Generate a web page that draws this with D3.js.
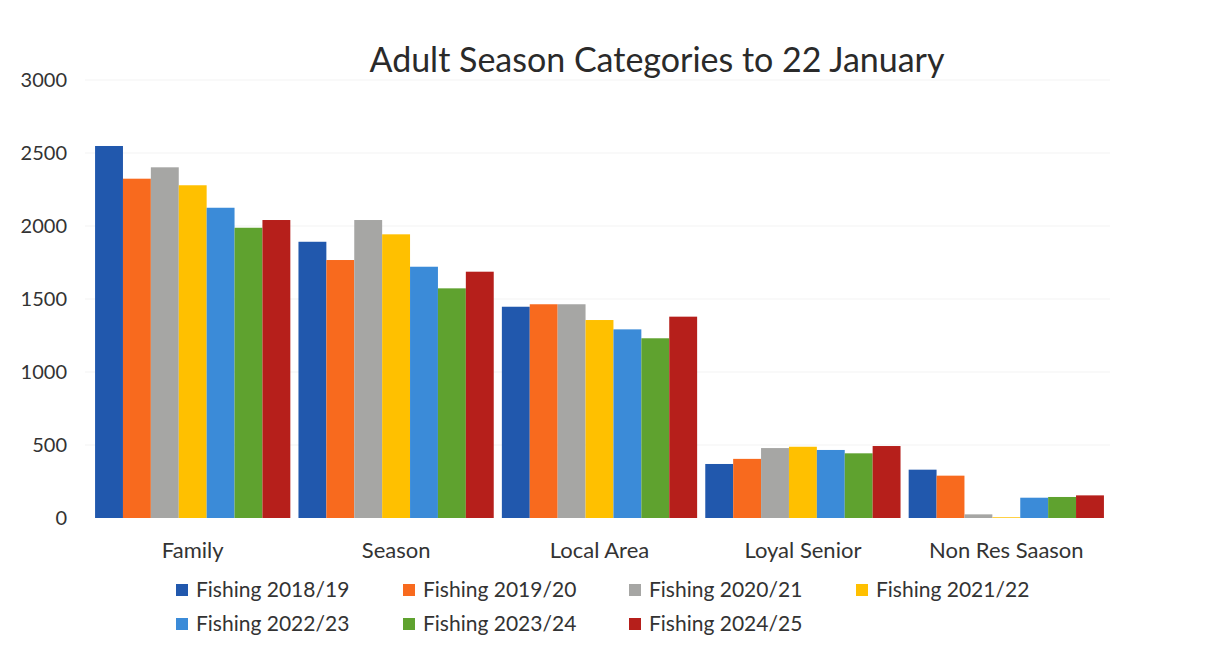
<!DOCTYPE html>
<html><head><meta charset="utf-8">
<script src="https://cdn.jsdelivr.net/npm/d3@7"></script>
<style>body{margin:0;background:#fff;} svg{display:block;font-family:Lato, "Open Sans", sans-serif;}</style>
</head><body>
<svg id="chart" width="1208" height="651"></svg>
<script>
const categories = ["Family", "Season", "Local Area", "Loyal Senior", "Non Res Saason"];
const seriesNames = ["Fishing 2018/19", "Fishing 2019/20", "Fishing 2020/21", "Fishing 2021/22", "Fishing 2022/23", "Fishing 2023/24", "Fishing 2024/25"];
const fishing201819 = [2548, 1892, 1447, 370, 331];
const fishing201920 = [2324, 1767, 1464, 405, 290];
const fishing202021 = [2402, 2041, 1464, 479, 25];
const fishing202122 = [2279, 1943, 1356, 488, 5];
const fishing202223 = [2125, 1721, 1292, 466, 139];
const fishing202324 = [1988, 1573, 1231, 443, 144];
const fishing202425 = [2041, 1687, 1379, 493, 155];
const seriesValues = [fishing201819, fishing201920, fishing202021, fishing202122, fishing202223, fishing202324, fishing202425];
const yTicks = [0, 500, 1000, 1500, 2000, 2500, 3000];
const colors = ["#2158ad", "#f86a1e", "#a6a6a4", "#ffc000", "#3b8bd8", "#5fa22f", "#b61f1b"];

const svg = d3.select("#chart");
const x0 = d3.scaleBand().domain(categories).range([91, 1108]).paddingInner(0.04).paddingOuter(0.02);
const x1 = d3.scaleBand().domain(seriesNames).range([0, x0.bandwidth()]);
const y = d3.scaleLinear().domain([0, 3000]).range([518, 80]);

// gridlines
svg.append("g").selectAll("line").data(yTicks.filter(t => t > 0)).join("line")
  .attr("x1", 85).attr("x2", 1110)
  .attr("y1", d => y(d)).attr("y2", d => y(d))
  .attr("stroke", "#f3f3f3").attr("stroke-width", 1);

// y axis labels
const yAxis = d3.axisLeft(y).tickValues(yTicks).tickFormat(d3.format("d")).tickSize(0).tickPadding(0);
const ya = svg.append("g").attr("transform", "translate(67,0)").call(yAxis);
ya.select(".domain").remove();
ya.selectAll("text").attr("font-family", "Lato, sans-serif").attr("font-size", 20).attr("fill", "#333");

// bars
const groups = svg.append("g").selectAll("g").data(categories).join("g")
  .attr("transform", d => `translate(${x0(d)},0)`);
groups.selectAll("rect").data((c, ci) => seriesNames.map((s, si) => ({s, si, v: seriesValues[si][ci]}))).join("rect")
  .attr("x", d => x1(d.s))
  .attr("width", x1.bandwidth())
  .attr("y", d => y(d.v))
  .attr("height", d => y(0) - y(d.v))
  .attr("fill", d => colors[d.si]);

// x axis labels
const xAxis = d3.axisBottom(x0).tickSize(0).tickPadding(0);
const xa = svg.append("g").attr("transform", "translate(0,542)").call(xAxis);
xa.select(".domain").remove();
xa.selectAll("text").attr("font-family", "Lato, sans-serif").attr("font-size", 22).attr("fill", "#333");

// title
svg.append("text").attr("x", 657).attr("y", 72).attr("text-anchor", "middle")
  .attr("font-size", 34).attr("fill", "#2a2a2a").text("Adult Season Categories to 22 January");

// legend
const legendX = [176, 403, 629, 856];
const legend = svg.append("g").selectAll("g").data(seriesNames).join("g")
  .attr("transform", (d, i) => `translate(${legendX[i % 4]},${i < 4 ? 590 : 624})`);
legend.append("rect").attr("x", 0).attr("y", -6).attr("width", 12).attr("height", 12)
  .attr("fill", (d, i) => colors[i]);
legend.append("text").attr("x", 20).attr("y", 7).attr("font-size", 21).attr("fill", "#333").text(d => d);
</script>
</body></html>
